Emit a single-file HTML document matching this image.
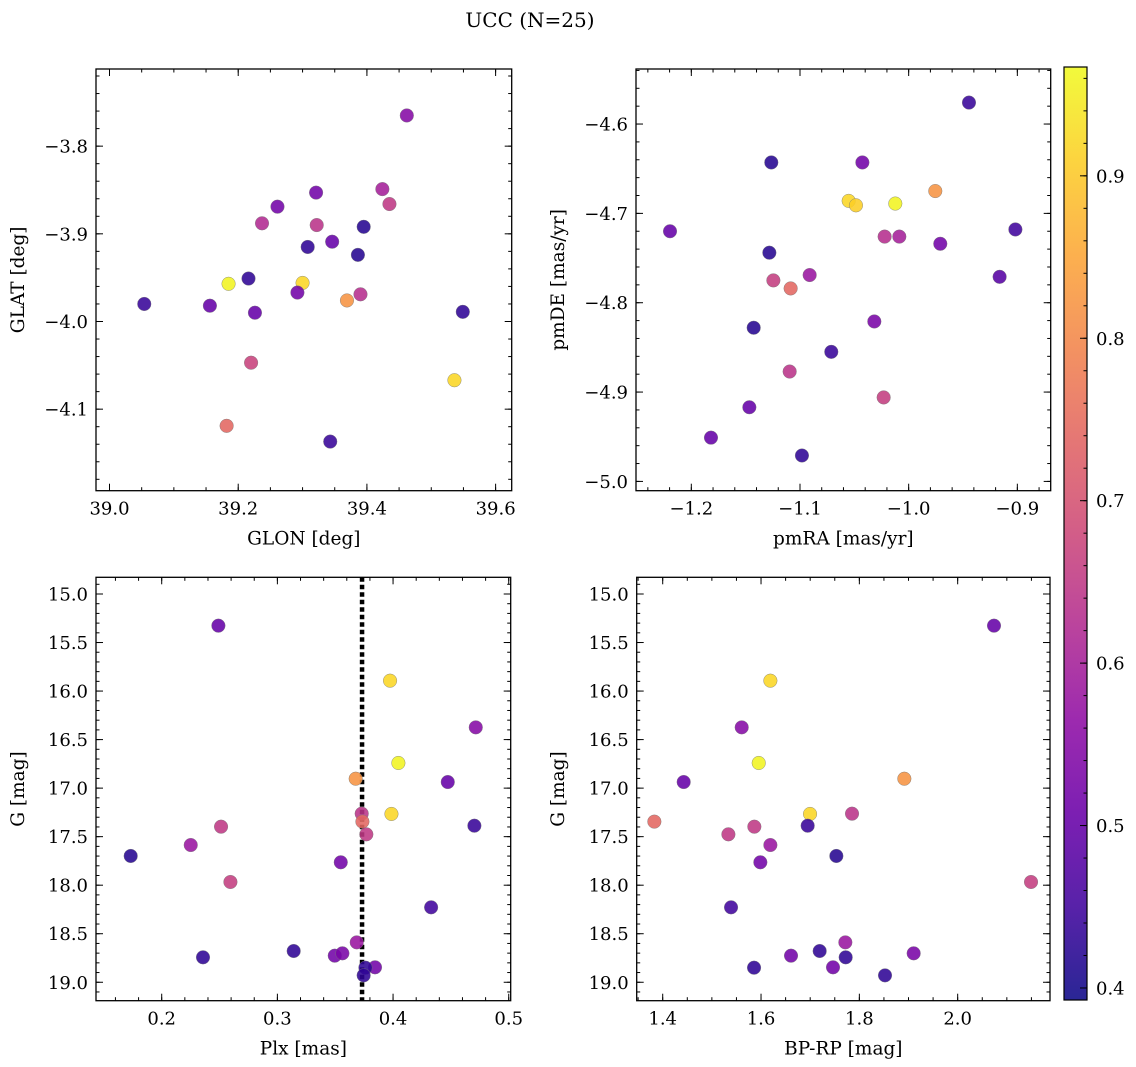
<!DOCTYPE html>
<html><head><meta charset="utf-8"><style>
body{margin:0;background:#fff}
svg{display:block;font-family:"DejaVu Serif","Liberation Serif",serif}
</style></head><body>
<svg id="fig" width="1136" height="1067" viewBox="0 0 1136 1067" xmlns="http://www.w3.org/2000/svg">
<rect width="1136" height="1067" fill="#fff"/>
<text x="530" y="27" font-size="20" text-anchor="middle">UCC (N=25)</text>
</svg>
<script>
// ---- data ----
const glon=[39.462,39.321,39.424,39.435,39.261,39.237,39.322,39.395,39.346,39.308,39.386,39.216,39.185,39.300,39.292,39.390,39.369,39.054,39.156,39.226,39.549,39.220,39.536,39.182,39.343];
const glat=[-3.765,-3.853,-3.849,-3.866,-3.869,-3.888,-3.890,-3.892,-3.909,-3.915,-3.924,-3.951,-3.957,-3.956,-3.967,-3.969,-3.976,-3.980,-3.982,-3.990,-3.989,-4.047,-4.067,-4.119,-4.137];
const probTop=[0.55,0.52,0.60,0.65,0.52,0.62,0.64,0.42,0.50,0.43,0.42,0.43,0.96,0.92,0.52,0.63,0.82,0.44,0.50,0.50,0.43,0.67,0.92,0.74,0.44];
const pmra=[-0.9445,-1.1264,-1.0426,-0.9755,-1.0552,-1.0485,-1.0123,-1.2196,-0.9018,-1.0221,-1.0086,-0.9709,-1.1282,-1.0911,-1.1245,-1.1086,-0.9163,-1.1426,-1.0316,-1.0712,-1.1095,-1.0230,-1.1466,-1.1819,-1.0982];
const pmde=[-4.576,-4.643,-4.643,-4.675,-4.686,-4.691,-4.689,-4.720,-4.718,-4.726,-4.726,-4.734,-4.744,-4.769,-4.775,-4.784,-4.771,-4.828,-4.821,-4.855,-4.877,-4.906,-4.917,-4.951,-4.971];
const probPm=[0.44,0.42,0.52,0.82,0.92,0.91,0.96,0.50,0.45,0.63,0.60,0.52,0.42,0.58,0.66,0.74,0.48,0.42,0.53,0.44,0.64,0.66,0.50,0.50,0.43];
const plx=[0.249,0.3974,0.4715,0.4046,0.3677,0.4473,0.3729,0.3735,0.3986,0.4703,0.2513,0.3769,0.2251,0.1732,0.3548,0.2594,0.4329,0.3686,0.3141,0.3496,0.3562,0.2357,0.3844,0.3761,0.3746];
const gmag=[15.326,15.893,16.374,16.741,16.903,16.937,17.263,17.345,17.266,17.387,17.397,17.476,17.586,17.699,17.764,17.967,18.228,18.589,18.678,18.726,18.702,18.743,18.846,18.850,18.929];
const bprp=[2.0739,1.619,1.5607,1.5953,1.8915,1.4427,1.7851,1.383,1.6997,1.6949,1.5864,1.5336,1.619,1.7532,1.5986,2.1492,1.539,1.7715,1.7193,1.661,1.9105,1.7722,1.7464,1.5858,1.8522];
const probBot=[0.50,0.92,0.55,0.96,0.82,0.50,0.64,0.74,0.92,0.44,0.65,0.65,0.58,0.42,0.52,0.66,0.45,0.58,0.43,0.52,0.53,0.43,0.52,0.43,0.43];
const plxLine=0.3732;
const cbTicks=[0.4,0.5,0.6,0.7,0.8,0.9];
const vmin=0.3926, vmax=0.967;

const NS="http://www.w3.org/2000/svg";
const svg=document.getElementById('fig');
function mk(tag,attrs,parent){const e=document.createElementNS(NS,tag);for(const k in attrs)e.setAttribute(k,attrs[k]);(parent||svg).appendChild(e);return e;}
const stops=[[13,8,135],[65,4,157],[106,0,168],[143,13,164],[177,42,144],[204,71,120],[225,100,98],[242,132,75],[252,166,54],[252,206,37],[240,249,33]];
function plasma(t){t=Math.max(0,Math.min(1,t))*10;const i=Math.min(9,Math.floor(t)),f=t-i;const a=stops[i],b=stops[i+1];return `rgb(${a.map((v,k)=>Math.round(v+(b[k]-v)*f)).join(',')})`;}
function cnorm(v){return (v-vmin)/(vmax-vmin);}
function fmt(v,d){const s=Math.abs(v).toFixed(d);return (v<0?'\u2212':'')+s;}
const TF=18, LF=18.5;

function panel(o){
  const g=mk('g',{});
  
  
  const X=v=>o.l+(v-o.xd[0])/(o.xd[1]-o.xd[0])*(o.r-o.l);
  const Y=v=>o.t+(v-o.yd[0])/(o.yd[1]-o.yd[0])*(o.b-o.t);
  const tk=mk('g',{stroke:'#000','stroke-width':1},g);
  
  
  const lo=Math.min(...o.xd),hi=Math.max(...o.xd);
  for(let k=Math.ceil(lo/o.xmin-1e-6);k*o.xmin<=hi+1e-9;k++){const v=k*o.xmin,x=X(v);mk('line',{x1:x,x2:x,y1:o.b,y2:o.b-3.5},tk);mk('line',{x1:x,x2:x,y1:o.t,y2:o.t+3.5},tk);}
  const ylo=Math.min(...o.yd),yhi=Math.max(...o.yd);
  for(let k=Math.ceil(ylo/o.ymin-1e-6);k*o.ymin<=yhi+1e-9;k++){const v=k*o.ymin,y=Y(v);mk('line',{y1:y,y2:y,x1:o.l,x2:o.l+3.5},tk);mk('line',{y1:y,y2:y,x1:o.r,x2:o.r-3.5},tk);}
  o.xt.forEach(v=>{const x=X(v);mk('line',{x1:x,x2:x,y1:o.b,y2:o.b-7},tk);mk('line',{x1:x,x2:x,y1:o.t,y2:o.t+7},tk);
    const t=mk('text',{x:x,y:o.b+24,'font-size':TF,'text-anchor':'middle'},g);t.textContent=fmt(v,o.xdp);
    });
  o.yt.forEach(v=>{const y=Y(v);mk('line',{y1:y,y2:y,x1:o.l,x2:o.l+7},tk);mk('line',{y1:y,y2:y,x1:o.r,x2:o.r-7},tk);
    const t=mk('text',{x:o.l-8,y:y+6.5,'font-size':TF,'text-anchor':'end'},g);t.textContent=fmt(v,o.ydp);
    });
  if(o.vline!==undefined){const ln=mk('line',{x1:X(o.vline),x2:X(o.vline),y1:o.t,y2:o.b,stroke:'#000','stroke-width':4.5,'stroke-dasharray':'4.5 3'},g);
    }
  o.xs.forEach((xv,i)=>{const c=mk('circle',{cx:X(xv),cy:Y(o.ys[i]),r:6.8,fill:plasma(cnorm(o.c[i])),'fill-opacity':0.88,stroke:'#777','stroke-width':0.4},g);
    });
  const fr=mk('rect',{x:o.l,y:o.t,width:o.r-o.l,height:o.b-o.t,fill:'none',stroke:'#000','stroke-width':1.3},g);
  
  const xl=mk('text',{x:(o.l+o.r)/2,y:o.b+54,'font-size':LF,'text-anchor':'middle'},g);xl.textContent=o.xlab;
  
  const yx=o.ylx,yy=(o.t+o.b)/2;
  const yl=mk('text',{x:yx,y:yy,'font-size':LF,'text-anchor':'middle',transform:`rotate(-90 ${yx} ${yy})`},g);yl.textContent=o.ylab;
  
}
panel({name:'glon-glat-panel',l:96,r:511.7,t:69,b:490.7,xd:[38.979,39.625],yd:[-3.712,-4.193],xt:[39.0,39.2,39.4,39.6],xdp:1,yt:[-3.8,-3.9,-4.0,-4.1],ydp:1,xmin:0.05,ymin:0.02,xs:glon,ys:glat,c:probTop,xlab:'GLON [deg]',ylab:'GLAT [deg]',ylx:24});
panel({name:'pm-panel',l:636,r:1050.7,t:69,b:490.7,xd:[-1.2509,-0.8693],yd:[-4.5384,-5.0104],xt:[-1.2,-1.1,-1.0,-0.9],xdp:1,yt:[-4.6,-4.7,-4.8,-4.9,-5.0],ydp:1,xmin:0.02,ymin:0.02,xs:pmra,ys:pmde,c:probPm,xlab:'pmRA [mas/yr]',ylab:'pmDE [mas/yr]',ylx:564});
panel({name:'plx-g-panel',l:96,r:510.7,t:577.3,b:1000.7,xd:[0.1432,0.5017],yd:[14.828,19.190],xt:[0.2,0.3,0.4,0.5],xdp:1,yt:[15,15.5,16,16.5,17,17.5,18,18.5,19],ydp:1,xmin:0.02,ymin:0.1,xs:plx,ys:gmag,c:probBot,vline:plxLine,xlab:'Plx [mas]',ylab:'G [mag]',ylx:24});
panel({name:'cmd-panel',l:636.7,r:1050,t:577.3,b:1000.7,xd:[1.3471,2.1878],yd:[14.828,19.190],xt:[1.4,1.6,1.8,2.0],xdp:1,yt:[15,15.5,16,16.5,17,17.5,18,18.5,19],ydp:1,xmin:0.05,ymin:0.1,xs:bprp,ys:gmag,c:probBot,xlab:'BP-RP [mag]',ylab:'G [mag]',ylx:564});

// colorbar
const cb=mk('g',{});


const defs=mk('defs',{},cb);
const lg=mk('linearGradient',{id:'pl',x1:0,y1:1,x2:0,y2:0},defs);
for(let i=0;i<=20;i++){const t=i/20;mk('stop',{offset:t,'stop-color':plasma(t),'stop-opacity':0.88},lg);}
const cbx0=1064,cbx1=1087,cbt=67,cbb=1000;
mk('rect',{x:cbx0,y:cbt,width:cbx1-cbx0,height:cbb-cbt,fill:'url(#pl)',stroke:'#000','stroke-width':1.2},cb);
const CY=v=>cbb-(v-vmin)/(vmax-vmin)*(cbb-cbt);
for(let k=20;k<=48;k++){const v=k*0.02;if(v<vmin||v>vmax)continue;mk('line',{x1:cbx1,x2:cbx1-3.5,y1:CY(v),y2:CY(v),stroke:'#000'},cb);}
cbTicks.forEach(v=>{const y=CY(v);mk('line',{x1:cbx1,x2:cbx1-7,y1:y,y2:y,stroke:'#000'},cb);
  const t=mk('text',{x:cbx1+9,y:y+6.5,'font-size':TF},cb);t.textContent=v.toFixed(1);
  });
</script>
</body></html>
